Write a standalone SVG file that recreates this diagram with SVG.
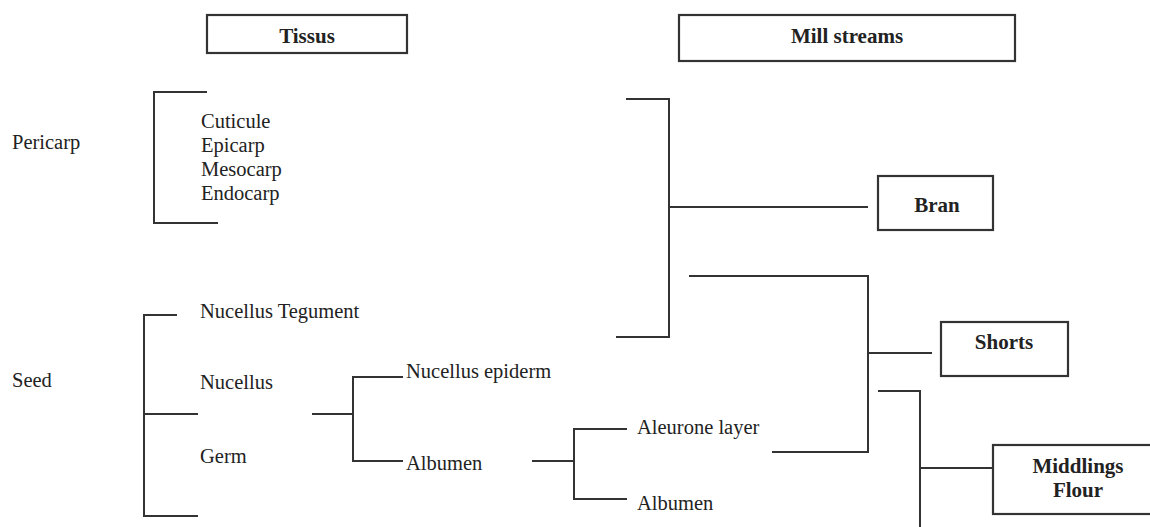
<svg xmlns="http://www.w3.org/2000/svg" width="1150" height="527" viewBox="0 0 1150 527">
<style>
.bg{fill:#fff}
.box{fill:#fff;stroke:#333;stroke-width:2.2}
.ln{fill:none;stroke:#333;stroke-width:2}
.t{font-family:'Liberation Serif','DejaVu Serif',serif;font-size:20.5px;fill:#222}
.b{font-family:'Liberation Serif','DejaVu Serif',serif;font-size:21px;font-weight:bold;fill:#222;text-anchor:middle}
</style>
<rect class="bg" x="0" y="0" width="1150" height="527"/>
<g id="tissus"><rect class="box" x="207" y="15" width="200" height="38"/><text class="b" x="307" y="43">Tissus</text></g>
<g id="mill-streams"><rect class="box" x="679" y="15" width="336" height="46"/><text class="b" x="847" y="43">Mill streams</text></g>
<g id="pericarp"><text class="t" x="12" y="149">Pericarp</text></g>
<g id="pericarp-layers">
<text class="t" x="201" y="128">Cuticule</text>
<text class="t" x="201" y="152">Epicarp</text>
<text class="t" x="201" y="176">Mesocarp</text>
<text class="t" x="201" y="200">Endocarp</text>
</g>
<g id="seed"><text class="t" x="12" y="387">Seed</text></g>
<g id="nucellus-tegument"><text class="t" x="200" y="318">Nucellus Tegument</text></g>
<g id="nucellus"><text class="t" x="200" y="389">Nucellus</text></g>
<g id="germ"><text class="t" x="200" y="463">Germ</text></g>
<g id="nucellus-epiderm"><text class="t" x="406" y="378">Nucellus epiderm</text></g>
<g id="albumen1"><text class="t" x="406" y="470">Albumen</text></g>
<g id="aleurone"><text class="t" x="637" y="434">Aleurone layer</text></g>
<g id="albumen2"><text class="t" x="637" y="510">Albumen</text></g>
<g id="bran"><rect class="box" x="878" y="176" width="115" height="54"/><text class="b" x="937" y="212">Bran</text></g>
<g id="shorts"><rect class="box" x="941" y="322" width="127" height="54"/><text class="b" x="1004" y="349">Shorts</text></g>
<g id="middlings"><rect class="box" x="993" y="445" width="172" height="69"/><text class="b" x="1078" y="473">Middlings</text><text class="b" x="1078" y="497">Flour</text></g>
<g id="connectors">
<path class="ln" d="M207 92H154V223H218"/>
<path class="ln" d="M177 315H144V516H198M144 414H198"/>
<path class="ln" d="M312 414H353M403 377H353V461H403"/>
<path class="ln" d="M532 461H574M627 429H574V499H627"/>
<path class="ln" d="M626 99H669V337H616M669 207H868"/>
<path class="ln" d="M689 276H868V452H772M868 353H932"/>
<path class="ln" d="M878 391H920V527M920 468H993"/>
</g>
</svg>
